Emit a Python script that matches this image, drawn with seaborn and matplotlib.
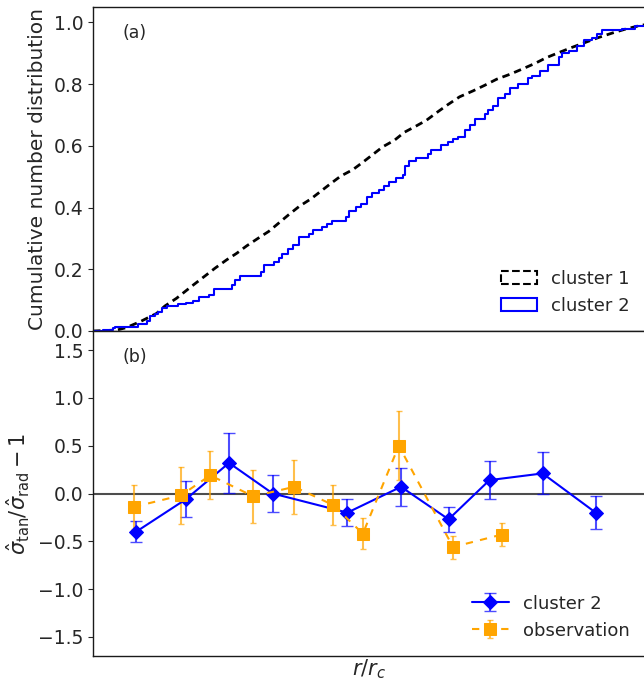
import matplotlib
matplotlib.use("Agg")
import matplotlib.pyplot as plt
import matplotlib.patches as mpatches
from matplotlib.container import ErrorbarContainer
import seaborn as sns

# ---- (a) cumulative number distributions vs. radius -------------------------
cluster1_r = [0.000, 0.043, 0.060, 0.085, 0.115, 0.130, 0.151, 0.182, 0.203,
              0.221, 0.242, 0.260, 0.278, 0.299, 0.318, 0.336, 0.354, 0.373,
              0.394, 0.412, 0.430, 0.448, 0.470, 0.488, 0.506, 0.524, 0.545,
              0.563, 0.584, 0.603, 0.624, 0.642, 0.663, 0.687, 0.708, 0.730,
              0.754, 0.775, 0.799, 0.820, 0.842, 0.866, 0.890, 0.914, 0.938,
              0.962, 0.987, 1.020]
cluster1_frac = [0.000, 0.003, 0.011, 0.030, 0.057, 0.081, 0.106, 0.150, 0.179,
                 0.204, 0.231, 0.252, 0.276, 0.301, 0.323, 0.350, 0.377, 0.404,
                 0.428, 0.453, 0.478, 0.502, 0.523, 0.547, 0.572, 0.597, 0.618,
                 0.644, 0.664, 0.683, 0.711, 0.734, 0.759, 0.778, 0.796, 0.816,
                 0.832, 0.848, 0.867, 0.886, 0.902, 0.919, 0.935, 0.951, 0.965,
                 0.978, 0.989, 1.000]

cluster2_r = [0.000, 0.018, 0.036, 0.039, 0.082, 0.097, 0.103, 0.112, 0.118,
              0.124, 0.133, 0.154, 0.169, 0.181, 0.191, 0.209, 0.218, 0.251,
              0.257, 0.266, 0.303, 0.310, 0.327, 0.336, 0.341, 0.352, 0.361,
              0.373, 0.391, 0.397, 0.415, 0.424, 0.433, 0.457, 0.463, 0.475,
              0.485, 0.495, 0.504, 0.518, 0.526, 0.536, 0.548, 0.560, 0.564,
              0.572, 0.584, 0.606, 0.612, 0.630, 0.642, 0.651, 0.660, 0.672,
              0.681, 0.690, 0.708, 0.715, 0.724, 0.733, 0.745, 0.754, 0.769,
              0.787, 0.793, 0.808, 0.823, 0.842, 0.848, 0.860, 0.875, 0.887,
              0.902, 0.911, 0.920, 0.956, 0.981, 0.999, 1.020]
cluster2_frac = [0.000, 0.003, 0.010, 0.014, 0.023, 0.034, 0.047, 0.054, 0.063,
                 0.074, 0.081, 0.086, 0.092, 0.096, 0.110, 0.117, 0.136, 0.148,
                 0.166, 0.179, 0.190, 0.214, 0.224, 0.236, 0.250, 0.265, 0.279,
                 0.306, 0.315, 0.326, 0.337, 0.348, 0.358, 0.369, 0.388, 0.402,
                 0.413, 0.434, 0.447, 0.458, 0.471, 0.482, 0.496, 0.507, 0.534,
                 0.550, 0.561, 0.572, 0.585, 0.604, 0.612, 0.621, 0.629, 0.653,
                 0.666, 0.686, 0.702, 0.716, 0.729, 0.756, 0.767, 0.789, 0.799,
                 0.821, 0.826, 0.843, 0.861, 0.889, 0.902, 0.908, 0.924, 0.943,
                 0.951, 0.962, 0.976, 0.980, 0.989, 0.994, 1.000]

# ---- (b) velocity anisotropy per radial bin ---------------------------------
cluster2_bin_r = [0.078, 0.168, 0.246, 0.325, 0.460, 0.557, 0.643, 0.717, 0.813, 0.909]
cluster2_aniso = [-0.40, -0.06, 0.32, 0.00, -0.20, 0.07, -0.27, 0.14, 0.21, -0.20]
cluster2_aniso_err = [0.11, 0.19, 0.31, 0.19, 0.14, 0.20, 0.13, 0.20, 0.22, 0.17]

obs_bin_r = [0.074, 0.159, 0.212, 0.290, 0.364, 0.434, 0.488, 0.553, 0.651, 0.739]
obs_aniso = [-0.14, -0.02, 0.19, -0.03, 0.07, -0.12, -0.42, 0.50, -0.56, -0.43]
obs_aniso_err = [0.23, 0.30, 0.25, 0.28, 0.28, 0.21, 0.16, 0.36, 0.12, 0.12]

sns.set_theme(style="ticks", rc={
    "axes.edgecolor": "0.1",
    "axes.linewidth": 1.0,
    "ytick.major.size": 3.5,
    "ytick.major.width": 0.8,
    "ytick.labelsize": 13.5,
})
plt.rcParams["font.family"] = ["DejaVu Sans"]
plt.rcParams["mathtext.fontset"] = "dejavusans"

W, H = 644, 683
fig = plt.figure(figsize=(W / 100, H / 100), dpi=100)
left, right = 93 / W, 646 / W
ax1 = fig.add_axes([left, 1 - 331 / H, right - left, 324 / H])
ax2 = fig.add_axes([left, 1 - 656 / H, right - left, 325 / H])

# cumulative curves
sns.lineplot(x=cluster1_r, y=cluster1_frac, ax=ax1, color="black",
             linewidth=2.0, linestyle=(0, (2.7, 1.8)), sort=False, estimator=None)
sns.lineplot(x=cluster2_r, y=cluster2_frac, ax=ax1, color="blue",
             linewidth=1.5, drawstyle="steps-post", sort=False, estimator=None)

ax1.set_xlim(0, 1)
ax1.set_ylim(0, 1.05)
ax1.set_yticks([0.0, 0.2, 0.4, 0.6, 0.8, 1.0])
ax1.tick_params(axis="x", bottom=False, labelbottom=False)
ax1.set_ylabel("Cumulative number distribution", fontsize=14.5, labelpad=5)
ax1.text(0.053, 0.92, "(a)", transform=ax1.transAxes, fontsize=12.5, va="center")

h1 = [mpatches.Patch(facecolor="none", edgecolor="black", linestyle="--",
                     linewidth=1.5, label="cluster 1"),
      mpatches.Patch(facecolor="none", edgecolor="blue", linewidth=1.5,
                     label="cluster 2")]
ax1.legend(handles=h1, loc="lower right", frameon=False, fontsize=13)

# anisotropy profiles
ax2.axhline(0, color="0.3", linewidth=1.5, zorder=1)

sns.lineplot(x=cluster2_bin_r, y=cluster2_aniso, ax=ax2, color="blue",
             linewidth=1.5, marker="D", markersize=7, markeredgecolor="blue",
             sort=False, estimator=None, zorder=3)
line_c2 = ax2.get_lines()[-1]
eb_c2 = ax2.errorbar(cluster2_bin_r, cluster2_aniso, yerr=cluster2_aniso_err,
                     fmt="none", ecolor="blue", elinewidth=1.5, capsize=4,
                     alpha=0.7, zorder=2)

sns.lineplot(x=obs_bin_r, y=obs_aniso, ax=ax2, color="orange",
             linewidth=1.5, linestyle=(0, (3.5, 3.5)), marker="s", markersize=8,
             markeredgecolor="orange", sort=False, estimator=None, zorder=3)
line_obs = ax2.get_lines()[-1]
eb_obs = ax2.errorbar(obs_bin_r, obs_aniso, yerr=obs_aniso_err,
                      fmt="none", ecolor="orange", elinewidth=1.5, capsize=2.5,
                      alpha=0.7, zorder=2)

ax2.set_xlim(0, 1)
ax2.set_ylim(-1.7, 1.7)
ax2.set_yticks([-1.5, -1.0, -0.5, 0.0, 0.5, 1.0, 1.5])
ax2.set_xticks([])
ax2.set_xlabel(r"$r/r_c$", fontsize=15, labelpad=1)
ax2.set_ylabel(r"$\hat{\sigma}_{\rm tan}/\hat{\sigma}_{\rm rad} - 1$", fontsize=15)
ax2.text(0.053, 0.92, "(b)", transform=ax2.transAxes, fontsize=12.5, va="center")

h2 = [ErrorbarContainer((line_c2, eb_c2.lines[1], eb_c2.lines[2]),
                        has_xerr=False, has_yerr=True, label="cluster 2"),
      ErrorbarContainer((line_obs, eb_obs.lines[1], eb_obs.lines[2]),
                        has_xerr=False, has_yerr=True, label="observation")]
ax2.legend(handles=h2, loc="lower right", frameon=False, fontsize=13)

fig.savefig("out.png", dpi=100)
